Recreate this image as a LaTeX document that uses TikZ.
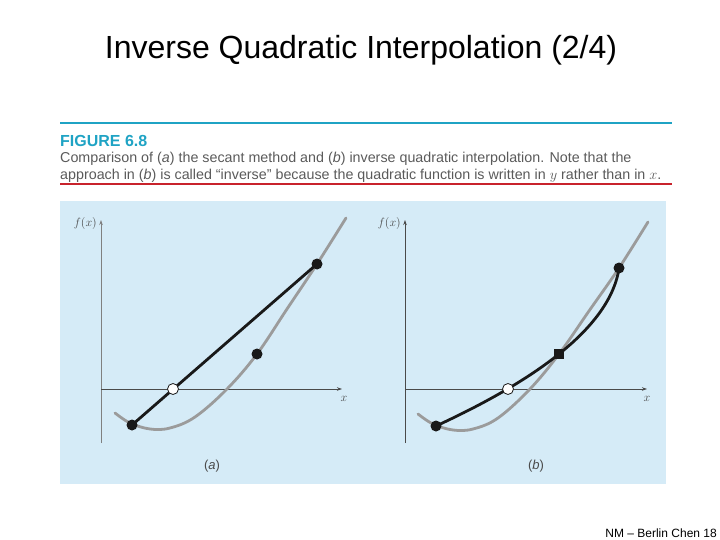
\documentclass[tikz,border=0pt]{standalone}
\usepackage{fontspec}
\setmainfont{Liberation Sans}
\usepackage{tikz}
\usepackage{xcolor}
\usetikzlibrary{arrows.meta,positioning}
\definecolor{figteal}{HTML}{1FA3C4}
\definecolor{figred}{HTML}{C8232C}
\definecolor{figpanel}{HTML}{D5EBF7}
\definecolor{figtext}{HTML}{5A5A5A}
\definecolor{figcurve}{HTML}{9B9B9B}
\definecolor{figaxis}{HTML}{4A4A4A}
\tikzset{
  titleText/.style={font=\fontsize{32}{38}\selectfont, anchor=center},
  capHead/.style={font=\fontsize{16}{18}\selectfont\bfseries, text=figteal, anchor=west, inner sep=0pt},
  capText/.style={font=\fontsize{14.3}{17}\selectfont, text=figtext, anchor=north west, align=left, inner sep=0pt},
  axisLine/.style={draw=figaxis, line width=0.7pt, -{Stealth[length=5pt,width=3.5pt]}},
  axisLabel/.style={font=\fontsize{13}{14}\selectfont, text=figaxis, inner sep=1pt},
  trueCurve/.style={draw=figcurve, line width=2.8pt, line cap=round},
  fitLine/.style={draw=black!90, line width=2.8pt, line cap=round},
  blackDot/.style={circle, fill=black!90, minimum size=11pt, inner sep=0pt},
  whiteDot/.style={circle, fill=white, draw=black!90, line width=0.8pt, minimum size=11pt, inner sep=0pt},
  squareDot/.style={rectangle, fill=black!90, minimum size=10pt, inner sep=0pt},
  panelLabel/.style={font=\fontsize{13}{14}\selectfont, text=figaxis}
}
\begin{document}
\begin{tikzpicture}[x=1pt, y=-1pt]
  \useasboundingbox (0,0) rectangle (720,540);

  \node[titleText] (title) at (361,50) {Inverse Quadratic Interpolation (2/4)};

  % figure caption
  \draw[figteal, line width=2pt] (60,123) -- (672,123);
  \node[capHead] (fighead) at (60,141) {FIGURE 6.8};
  \node[capText] (caption) at (60,152) {Comparison of (\emph{a}) the secant method and (\emph{b}) inverse quadratic interpolation. Note that the\\ approach in (\emph{b}) is called ``inverse'' because the quadratic function is written in $y$ rather than in $x$.};
  \draw[figred, line width=1.6pt] (60,184) -- (672,184);

  \fill[figpanel] (60,201) rectangle (666,484);

  % panel (a): secant
  \coordinate (oa) at (101,389);
  \draw[axisLine, draw=figaxis!70] (101,443) -- (101,220);
  \draw[axisLine] (oa) -- (342,389);
  \node[axisLabel, left=1pt] (fxa) at (99,223) {$f(x)$};
  \node[axisLabel] (xa) at (344,399) {$x$};
  \draw[trueCurve] plot[smooth, tension=0.6] coordinates {(115,413) (130,423) (150,429) (170,428) (195,417) (227,389) (257,354) (287,309) (317,264) (346,218)};
  \coordinate (a1) at (132,425);
  \coordinate (a2) at (257,354);
  \coordinate (a3) at (317,264);
  \coordinate (a0) at (173,389);
  \draw[fitLine] (a1) -- (a3);
  \node[blackDot] (a1dot) at (a1) {};
  \node[blackDot] (a2dot) at (a2) {};
  \node[blackDot] (a3dot) at (a3) {};
  \node[whiteDot] (a0dot) at (a0) {};
  \node[panelLabel] (laba) at (212,466) {(\emph{a})};

  % panel (b): inverse quadratic
  \coordinate (ob) at (405,389);
  \draw[axisLine] (405,443) -- (405,220);
  \draw[axisLine] (ob) -- (647,389);
  \node[axisLabel, left=1pt] (fxb) at (403,223) {$f(x)$};
  \node[axisLabel] (xb) at (647,399) {$x$};
  \draw[trueCurve] plot[smooth, tension=0.6] coordinates {(418,414) (433,424) (453,430) (473,429) (498,418) (530,389) (559,354) (589,311) (619,268) (648,222)};
  \coordinate (b1) at (436,426);
  \coordinate (b2) at (559,354);
  \coordinate (b3) at (619,268);
  \coordinate (b0) at (508,389);
  \draw[fitLine] plot[domain=0:158, samples=60] ({436+2.1688*\x-0.006395*\x*\x},{426-\x});
  \node[blackDot] (b1dot) at (b1) {};
  \node[squareDot] (b2dot) at (b2) {};
  \node[blackDot] (b3dot) at (b3) {};
  \node[whiteDot] (b0dot) at (b0) {};
  \node[panelLabel] (labb) at (536,466) {(\emph{b})};

  \node[font=\fontsize{12}{13}\selectfont, anchor=east, inner sep=0pt] (footer) at (717,533) {NM -- Berlin Chen 18};
\end{tikzpicture}
\end{document}
